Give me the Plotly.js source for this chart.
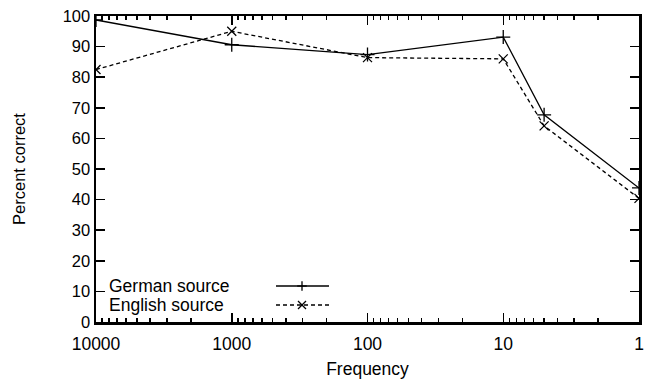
<!DOCTYPE html>
<html>
<head>
<meta charset="utf-8">
<script src="https://cdn.plot.ly/plotly-3.0.1.min.js"></script>
<style>html,body{margin:0;padding:0;background:#fff;}#chart{width:645px;height:379px;}</style>
</head>
<body>
<div id="chart"></div>
<script>
const frequency = [10000, 1000, 100, 10, 5, 1];
const germanSource = [98.7, 90.6, 87.4, 93.1, 67.7, 43.8];
const englishSource = [82.5, 95.0, 86.4, 86.0, 64.1, 40.4];
const seriesNames = ["German source", "English source"];
const xTickVals = [10000, 1000, 100, 10, 1];
const xTickText = ["10000", "1000", "100", "10", "1"];

const FONT = "Liberation Sans, Arial, sans-serif";

const traces = [
  {x: frequency, y: germanSource, name: seriesNames[0], type: "scatter", mode: "lines+markers",
   line: {color: "#000", width: 1.3, dash: "solid"},
   marker: {symbol: "cross-thin-open", size: 10, line: {color: "#000", width: 1.3}}},
  {x: frequency, y: englishSource, name: seriesNames[1], type: "scatter", mode: "lines+markers",
   line: {color: "#000", width: 1.3, dash: "4px,3px"},
   marker: {symbol: "x-thin-open", size: 9, line: {color: "#000", width: 1.3}}}
];

// legend drawn gnuplot-style (text left, sample right) in paper coordinates
const L = 96, R = 639, T = 16, B = 322;
function px(x){ return (x - L) / (R - L); }
function py(y){ return (B - y) / (B - T); }
const legRows = [286, 305];
const shapes = [];
const annotations = [];
seriesNames.forEach((nm, i) => {
  const y = py(legRows[i]);
  annotations.push({xref: "paper", yref: "paper", x: px(107), y: y, xanchor: "left", yanchor: "middle",
    text: nm, showarrow: false, font: {family: FONT, size: 17.5, color: "#000"}});
  shapes.push({type: "line", xref: "paper", yref: "paper", x0: px(276), x1: px(329), y0: y, y1: y,
    line: {color: "#000", width: 1.3, dash: i === 0 ? "solid" : "4px,3px"}});
  const s = 4 / (R - L), t = 4 / (B - T);
  if (i === 0) {
    shapes.push({type: "line", xref: "paper", yref: "paper", x0: px(302) - s*1.2, x1: px(302) + s*1.2, y0: y, y1: y, line: {color: "#000", width: 1.3}});
    shapes.push({type: "line", xref: "paper", yref: "paper", x0: px(302), x1: px(302), y0: y - t*1.2, y1: y + t*1.2, line: {color: "#000", width: 1.3}});
  } else {
    shapes.push({type: "line", xref: "paper", yref: "paper", x0: px(302) - s, x1: px(302) + s, y0: y - t, y1: y + t, line: {color: "#000", width: 1.3}});
    shapes.push({type: "line", xref: "paper", yref: "paper", x0: px(302) - s, x1: px(302) + s, y0: y + t, y1: y - t, line: {color: "#000", width: 1.3}});
  }
});

const layout = {
  width: 645, height: 379,
  margin: {l: 96, r: 6, t: 16, b: 57, pad: 0},
  paper_bgcolor: "#fff", plot_bgcolor: "#fff",
  showlegend: false,
  font: {family: FONT, size: 17, color: "#000"},
  xaxis: {
    type: "log", range: [4, 0],
    tickvals: xTickVals, ticktext: xTickText,
    ticks: "inside", ticklen: 9, tickwidth: 1.5, tickcolor: "#000",
    minor: {ticks: "inside", ticklen: 4, tickwidth: 1.5, tickcolor: "#000", showgrid: false, dtick: "D1"},
    showline: true, linewidth: 2.5, linecolor: "#000", mirror: "ticks",
    showgrid: false, zeroline: false,
    ticklabelstandoff: 4,
    tickfont: {family: FONT, size: 17.5},
    title: {text: "Frequency", font: {family: FONT, size: 17.5}, standoff: 11}
  },
  yaxis: {
    range: [0, 100], dtick: 10, tick0: 0,
    ticks: "inside", ticklen: 9, tickwidth: 1.5, tickcolor: "#000",
    showline: true, linewidth: 2.5, linecolor: "#000", mirror: "ticks",
    showgrid: false, zeroline: false,
    tickfont: {family: FONT, size: 16.5},
    title: {text: "Percent correct", font: {family: FONT, size: 16.5}, standoff: 33}
  },
  shapes: shapes,
  annotations: annotations
};

Plotly.newPlot("chart", traces, layout, {displayModeBar: false, staticPlot: true});
</script>
</body>
</html>
